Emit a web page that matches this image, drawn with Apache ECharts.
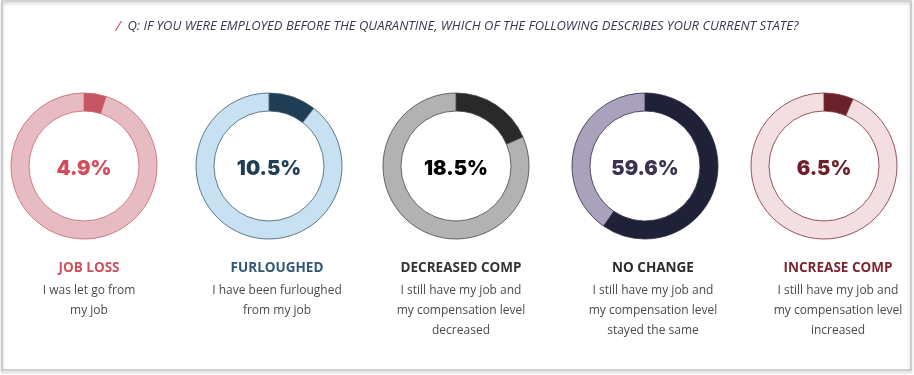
<!DOCTYPE html>
<html>
<head>
<meta charset="utf-8">
<script src="https://cdn.jsdelivr.net/npm/echarts@6/dist/echarts.min.js"></script>
<style>
  html, body { margin: 0; padding: 0; background: #fff; }
  #main { width: 914px; height: 375px; }
</style>
</head>
<body>
<div id="main"></div>
<script>
var question = 'Q: IF YOU WERE EMPLOYED BEFORE THE QUARANTINE, WHICH OF THE FOLLOWING DESCRIBES YOUR CURRENT STATE?';
var categories = ['JOB LOSS', 'FURLOUGHED', 'DECREASED COMP', 'NO CHANGE', 'INCREASE COMP'];
var descriptions = [
    'I was let go from\nmy job',
    'I have been furloughed\nfrom my job',
    'I still have my job and\nmy compensation level\ndecreased',
    'I still have my job and\nmy compensation level\nstayed the same',
    'I still have my job and\nmy compensation level\nincreased'
];
var percents = [4.9, 10.5, 18.5, 59.6, 6.5];

// colours per donut: [segment, rest, outline, value text, heading]
var palette = [
    ['#c65561', '#e6bcc2', '#c96070', '#d24c5c', '#d0505f'],
    ['#1f3e55', '#c8e1f2', '#3c5a70', '#1f3d55', '#2f5878'],
    ['#292929', '#b2b2b2', '#444444', '#000000', '#333333'],
    ['#1e2137', '#aaa2bd', '#2a2a40', '#3b3150', '#2b2b2b'],
    ['#6c2028', '#f3dfe1', '#7a2c33', '#6e1f27', '#7b2732']
];
var centersX = [84, 269, 456, 645, 824];
var labelX = [84, 272, 456, 648, 833];
var centerY = 166;

var myChart = echarts.init(document.getElementById('main'));

var series = percents.map(function (p, i) {
    var c = palette[i];
    return {
        type: 'pie',
        radius: [55, 73],
        center: [centersX[i], centerY],
        startAngle: 90,
        clockwise: true,
        silent: true,
        animation: false,
        label: { show: false },
        labelLine: { show: false },
        itemStyle: { borderColor: c[2], borderWidth: 0.8 },
        data: [
            {
                value: p,
                itemStyle: { color: c[0] },
                label: {
                    show: true,
                    position: 'center',
                    offset: [0, 3],
                    formatter: p.toFixed(1) + '%',
                    color: c[3],
                    fontFamily: 'Inter',
                    fontWeight: 900,
                    fontSize: 20
                }
            },
            { value: 100 - p, itemStyle: { color: c[1] } }
        ]
    };
});

var titles = categories.map(function (name, i) {
    return {
        text: name,
        subtext: descriptions[i],
        left: labelX[i],
        top: 256,
        textAlign: 'center',
        itemGap: 6,
        textStyle: {
            color: palette[i][4],
            fontFamily: 'Open Sans',
            fontWeight: 'bold',
            fontSize: 13.5
        },
        subtextStyle: {
            color: '#4a4a4a',
            fontFamily: 'Open Sans',
            fontSize: 12,
            lineHeight: 20
        }
    };
});

var option = {
    backgroundColor: '#fff',
    title: titles,
    series: series,
    graphic: [
        {
            type: 'rect',
            shape: { x: 2, y: 1, width: 909, height: 369 },
            style: {
                fill: 'none',
                stroke: '#c4c4c4',
                lineWidth: 1.5,
                shadowBlur: 3,
                shadowOffsetY: 2,
                shadowColor: 'rgba(0,0,0,0.25)'
            },
            silent: true,
            z: -1
        },
        {
            type: 'text',
            left: 'center',
            top: 19,
            style: {
                text: '{s|/}  {q|' + question + '}',
                rich: {
                    s: { fill: '#d4505e', fontSize: 15, fontStyle: 'italic', fontFamily: 'Open Sans' },
                    q: { fill: '#3a3650', fontSize: 13, fontStyle: 'italic', fontFamily: 'Open Sans' }
                }
            }
        }
    ]
};

myChart.setOption(option);
</script>
</body>
</html>
